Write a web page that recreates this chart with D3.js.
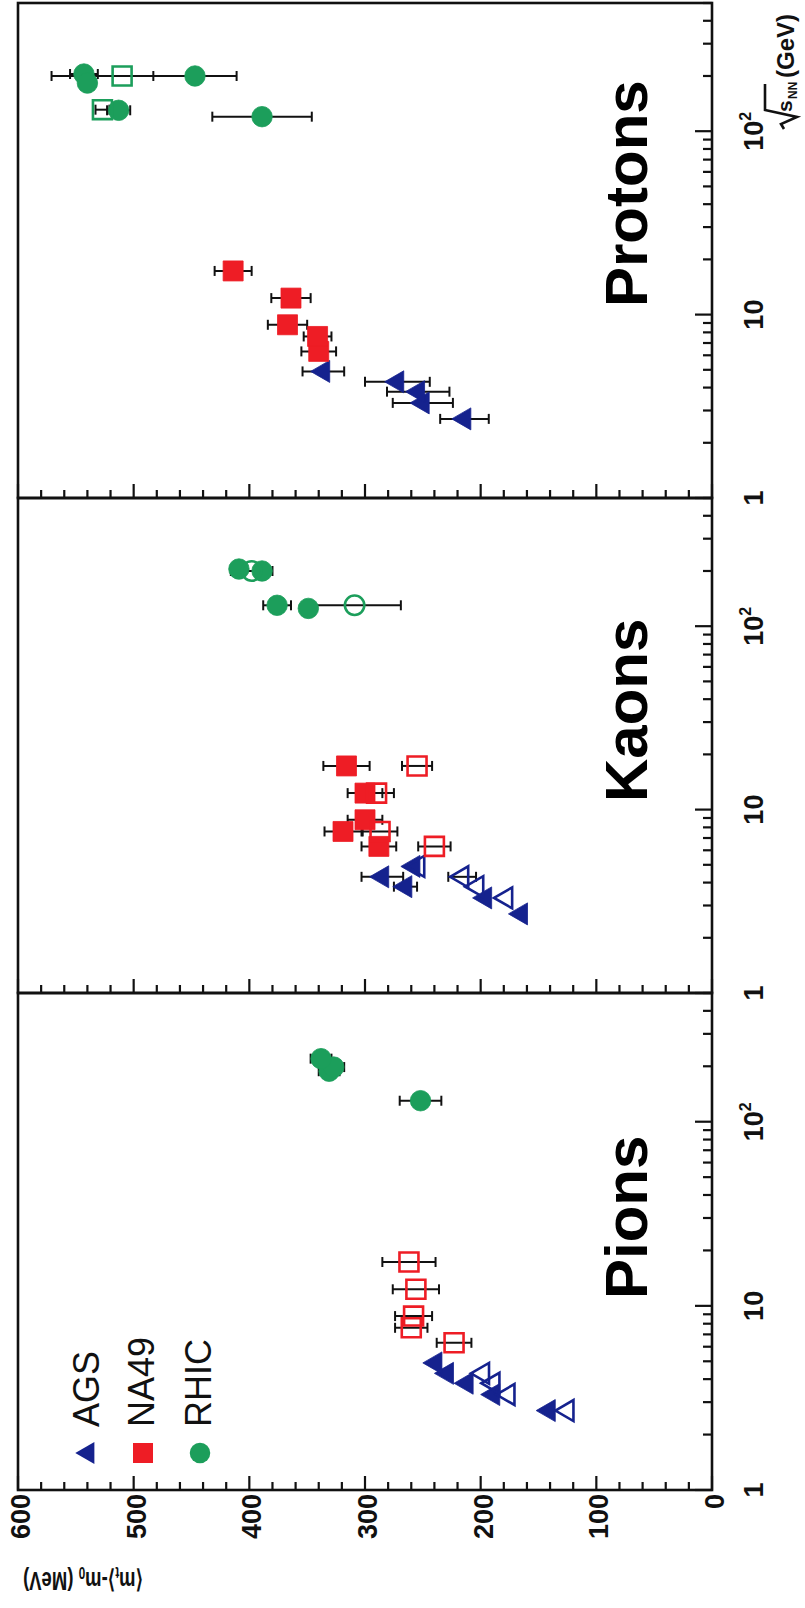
<!DOCTYPE html>
<html>
<head>
<meta charset="utf-8">
<script src="https://cdn.jsdelivr.net/npm/d3@7"></script>
<style>
  html, body { margin: 0; padding: 0; background: #fff; }
  svg { display: block; }
  text { font-family: "Liberation Sans", Arial, Helvetica, sans-serif; }
</style>
</head>
<body>
<svg id="chart" width="805" height="1608"></svg>
<script>
// Each point: [sqrt(s_NN) in GeV, <m_t>-m_0 in MeV, error in MeV]
// Pions
const pionAGSFilled  = [[2.7, 141, 0], [3.3, 189, 0], [3.8, 212, 0], [4.3, 229, 0], [4.9, 239, 0]];
const pionAGSOpen    = [[2.7, 125, 0], [3.3, 176, 0], [3.8, 189, 0], [4.3, 198, 0]];
const pionNA49Open   = [[6.3, 223, 15], [7.6, 260, 14], [8.8, 258, 16], [12.3, 256, 20], [17.3, 262, 23]];
const pionRHICFilled = [[130, 252, 18], [188, 331, 9], [198, 327, 9], [220, 338, 9]];

// Kaons
const kaonAGSFilled  = [[2.7, 165, 0], [3.3, 196, 0], [3.8, 265, 10], [4.3, 285, 18], [4.9, 258, 0]];
const kaonAGSOpen    = [[3.3, 178, 0], [3.8, 203, 0], [4.3, 216, 12], [4.9, 254, 0]];
const kaonNA49Filled = [[6.3, 288, 15], [7.6, 319, 16], [8.8, 300, 15], [12.3, 300, 15], [17.3, 316, 20]];
const kaonNA49Open   = [[6.3, 240, 14], [7.6, 287, 15], [12.3, 290, 15], [17.3, 255, 13]];
const kaonRHICFilled = [[125, 349, 0], [130, 376, 12], [200, 389, 0], [205, 409, 0]];
const kaonRHICOpen   = [[130, 309, 40], [200, 398, 18]];

// Protons
const protonAGSFilled  = [[2.7, 214, 21], [3.3, 250, 26], [3.8, 254, 27], [4.3, 272, 28], [4.9, 336, 18]];
const protonNA49Filled = [[6.3, 340, 15], [7.6, 341, 12], [8.8, 367, 17], [12.3, 364, 17], [17.3, 414, 16]];
const protonRHICFilled = [[120, 389, 43], [130, 513, 10], [200, 447, 36], [205, 543, 12], [183, 540, 0]];
const protonRHICOpen   = [[131, 527, 6], [200, 510, 61]];

// Axis ticks and labels
const valueTicks = [0, 100, 200, 300, 400, 500, 600];
const energyTickLabels = [[1, "1"], [10, "10"], [100, "10", "2"]];
const panelTitles = ["Pions", "Kaons", "Protons"];
const legendNames = ["AGS", "NA49", "RHIC"];

const colors = { AGS: "#15228e", NA49: "#ee1d25", RHIC: "#1c9e5b" };

// Figure is laid out landscape and turned a quarter turn counter-clockwise.
const W = 1608, H = 805;
const svg = d3.select("#chart");
const root = svg.append("g").attr("transform", `translate(0,${W}) rotate(-90)`);

const y = d3.scaleLinear().domain([0, 600]).range([712, 18]);
const panelEdges = [118, 615, 1110, 1605];

const panels = [
  { title: panelTitles[0], series: [
      { data: pionAGSFilled, shape: d3.symbolTriangle, color: colors.AGS, open: false },
      { data: pionAGSOpen, shape: d3.symbolTriangle, color: colors.AGS, open: true },
      { data: pionNA49Open, shape: d3.symbolSquare, color: colors.NA49, open: true },
      { data: pionRHICFilled, shape: d3.symbolCircle, color: colors.RHIC, open: false } ] },
  { title: panelTitles[1], series: [
      { data: kaonAGSFilled, shape: d3.symbolTriangle, color: colors.AGS, open: false },
      { data: kaonAGSOpen, shape: d3.symbolTriangle, color: colors.AGS, open: true },
      { data: kaonNA49Filled, shape: d3.symbolSquare, color: colors.NA49, open: false },
      { data: kaonNA49Open, shape: d3.symbolSquare, color: colors.NA49, open: true },
      { data: kaonRHICFilled, shape: d3.symbolCircle, color: colors.RHIC, open: false },
      { data: kaonRHICOpen, shape: d3.symbolCircle, color: colors.RHIC, open: true } ] },
  { title: panelTitles[2], series: [
      { data: protonAGSFilled, shape: d3.symbolTriangle, color: colors.AGS, open: false },
      { data: protonNA49Filled, shape: d3.symbolSquare, color: colors.NA49, open: false },
      { data: protonRHICFilled, shape: d3.symbolCircle, color: colors.RHIC, open: false },
      { data: protonRHICOpen, shape: d3.symbolSquare, color: colors.RHIC, open: true } ] }
];

const symbolSize = (shape) => shape === d3.symbolSquare ? 400 : shape === d3.symbolCircle ? 330 : 210;

panels.forEach((p, i) => {
  const x = d3.scaleLog().domain([1, 500]).range([panelEdges[i], panelEdges[i + 1]]);
  const g = root.append("g");

  // frame
  g.append("rect")
    .attr("x", x.range()[0]).attr("y", y(600))
    .attr("width", x.range()[1] - x.range()[0]).attr("height", y(0) - y(600))
    .attr("fill", "none").attr("stroke", "#111").attr("stroke-width", 2.6);

  // energy axis ticks (inward)
  const eTicks = [];
  for (let d = 1; d <= 100; d *= 10) for (let k = 1; k <= 9; k++) if (d * k <= 500) eTicks.push(d * k);
  g.selectAll(".etick").data(eTicks).join("line")
    .attr("x1", d => x(d)).attr("x2", d => x(d))
    .attr("y1", y(0)).attr("y2", d => y(0) - ([1, 10, 100].includes(d) ? 17 : 9))
    .attr("stroke", "#111").attr("stroke-width", 2.2);

  // value axis ticks (inward, every 20 MeV)
  const vTicks = d3.range(0, 601, 20);
  g.selectAll(".vtick").data(vTicks).join("line")
    .attr("y1", d => y(d)).attr("y2", d => y(d))
    .attr("x1", x.range()[0]).attr("x2", d => x.range()[0] + (d % 100 === 0 ? 14 : 8))
    .attr("stroke", "#111").attr("stroke-width", 2.2);

  // energy tick labels
  energyTickLabels.forEach(t => {
    const txt = g.append("text")
      .attr("x", x(t[0])).attr("y", 763)
      .attr("text-anchor", "middle")
      .attr("font-size", 27).attr("font-weight", "bold").attr("fill", "#111");
    txt.append("tspan").text(t[1]);
    if (t[2]) txt.append("tspan").attr("dy", -12).attr("font-size", 16).text(t[2]);
  });

  // value labels on the first panel only
  if (i === 0) {
    g.selectAll(".vlabel").data(valueTicks).join("text")
      .attr("x", x.range()[0] - 4).attr("y", d => y(d) + 12)
      .attr("text-anchor", "end")
      .attr("font-size", 27).attr("font-weight", "bold").attr("fill", "#111")
      .text(d => d);
  }

  // panel title
  g.append("text")
    .attr("x", x(1) + 191).attr("y", 647)
    .attr("font-size", 60).attr("font-weight", "bold").attr("fill", "#000")
    .text(p.title);

  // error bars
  p.series.forEach(s => {
    const withErr = s.data.filter(d => d[2] > 0);
    const eg = g.append("g").attr("stroke", "#111").attr("stroke-width", 2);
    eg.selectAll("line.bar").data(withErr).join("line")
      .attr("x1", d => x(d[0])).attr("x2", d => x(d[0]))
      .attr("y1", d => y(d[1] - d[2])).attr("y2", d => y(d[1] + d[2]));
    eg.selectAll("line.capLo").data(withErr).join("line")
      .attr("x1", d => x(d[0]) - 5).attr("x2", d => x(d[0]) + 5)
      .attr("y1", d => y(d[1] - d[2])).attr("y2", d => y(d[1] - d[2]));
    eg.selectAll("line.capHi").data(withErr).join("line")
      .attr("x1", d => x(d[0]) - 5).attr("x2", d => x(d[0]) + 5)
      .attr("y1", d => y(d[1] + d[2])).attr("y2", d => y(d[1] + d[2]));
  });

  // markers
  p.series.forEach(s => {
    const sym = d3.symbol().type(s.shape).size(symbolSize(s.shape) * (s.open ? 0.9 : 1));
    g.append("g").selectAll("path").data(s.data).join("path")
      .attr("transform", d => `translate(${x(d[0])},${y(d[1])})`)
      .attr("d", sym)
      .attr("fill", s.open ? "none" : s.color)
      .attr("stroke", s.color)
      .attr("stroke-width", s.open ? 2.6 : 0.8);
  });
});

// legend inside the first panel
const legendShapes = [d3.symbolTriangle, d3.symbolSquare, d3.symbolCircle];
const legendColors = [colors.AGS, colors.NA49, colors.RHIC];
const legendY = [88, 143, 200];
const lg = root.append("g");
legendNames.forEach((name, k) => {
  lg.append("path")
    .attr("transform", `translate(155,${legendY[k]})`)
    .attr("d", d3.symbol().type(legendShapes[k]).size(symbolSize(legendShapes[k])))
    .attr("fill", legendColors[k]);
  lg.append("text")
    .attr("x", 181).attr("y", legendY[k] + 11)
    .attr("font-size", 36).attr("fill", "#111")
    .text(name);
});

// value axis title
const yt = root.append("text")
  .attr("transform", "translate(36,83) rotate(-90)")
  .attr("text-anchor", "middle")
  .attr("font-size", 25).attr("font-weight", "bold").attr("fill", "#111")
  .attr("textLength", 120).attr("lengthAdjust", "spacingAndGlyphs");
yt.append("tspan").text("\u27E8m");
yt.append("tspan").attr("font-size", 16).attr("dy", 5).text("t");
yt.append("tspan").attr("dy", -5).text("\u27E9-m");
yt.append("tspan").attr("font-size", 16).attr("dy", 5).text("0");
yt.append("tspan").attr("dy", -5).text(" (MeV)");

// energy axis title: sqrt(s_NN) (GeV)
const et = root.append("g");
et.append("path")
  .attr("d", "M1479,784 L1484,781 L1491,797 L1498,765 L1524,765")
  .attr("fill", "none").attr("stroke", "#111").attr("stroke-width", 2.6).attr("stroke-linejoin", "miter");
et.append("text").attr("x", 1496).attr("y", 792)
  .attr("font-size", 21).attr("font-weight", "bold").attr("fill", "#111").text("s");
et.append("text").attr("x", 1509).attr("y", 797)
  .attr("font-size", 12).attr("font-weight", "bold").attr("fill", "#111").text("NN");
et.append("text").attr("x", 1530).attr("y", 794)
  .attr("font-size", 24).attr("font-weight", "bold").attr("fill", "#111").text("(GeV)");
</script>
</body>
</html>
